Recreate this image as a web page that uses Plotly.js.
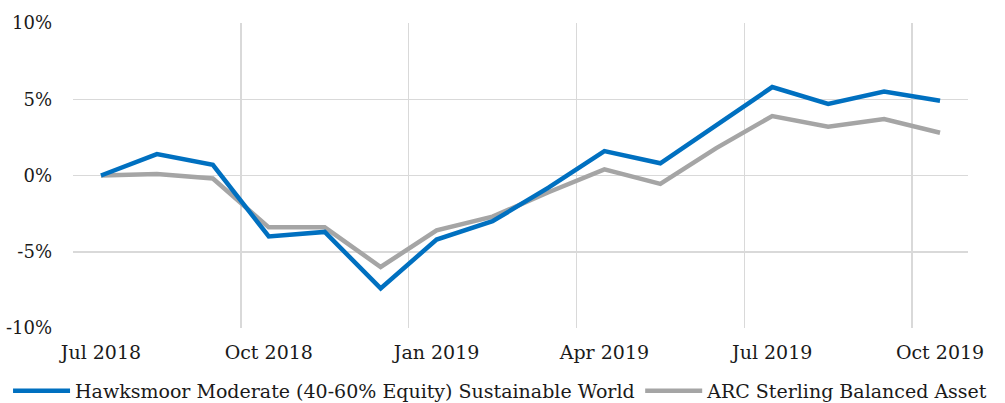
<!DOCTYPE html>
<html>
<head>
<meta charset="utf-8">
<script src="https://cdn.plot.ly/plotly-3.0.1.min.js"></script>
<style>html,body{margin:0;padding:0;background:#fff;}#chart{width:1005px;height:403px;}</style>
</head>
<body>
<div id="chart"></div>
<script>
const months = ["Jul 2018","Aug 2018","Sep 2018","Oct 2018","Nov 2018","Dec 2018","Jan 2019","Feb 2019","Mar 2019","Apr 2019","May 2019","Jun 2019","Jul 2019","Aug 2019","Sep 2019","Oct 2019"];
const hawksmoor = [0, 1.4, 0.7, -4.0, -3.7, -7.4, -4.2, -3.0, -0.8, 1.6, 0.8, 3.3, 5.8, 4.7, 5.5, 4.9];
const arc = [0, 0.1, -0.2, -3.4, -3.4, -6.0, -3.6, -2.7, -1.1, 0.4, -0.55, 1.8, 3.9, 3.2, 3.7, 2.8];
const seriesNames = ["Hawksmoor Moderate (40-60% Equity) Sustainable World", "ARC Sterling Balanced Asset"];
const yTickVals = [-10, -5, 0, 5, 10];
const yTickText = ["-10%", "-5%", "0%", "5%", "10%"];

const idx = months.map((m, i) => i);
const labelIdx = idx.filter(i => i % 3 === 0);

const traces = [
  {x: idx, y: arc, name: seriesNames[1], type: 'scatter', mode: 'lines', legend: 'legend2',
   line: {color: '#A5A5A5', width: 4.5}, text: months, hovertemplate: '%{text}: %{y}%'},
  {x: idx, y: hawksmoor, name: seriesNames[0], type: 'scatter', mode: 'lines', legend: 'legend',
   line: {color: '#0070C0', width: 4.5}, text: months, hovertemplate: '%{text}: %{y}%'}
];
const fam = 'DejaVu Serif';
const font = {family: fam, size: 20, color: '#1a1a1a'};
const legFont = {family: fam, size: 19, color: '#1a1a1a'};
const legBase = {
  orientation: 'h', xref: 'container', yref: 'container', y: 0.077, yanchor: 'top', xanchor: 'left',
  font: legFont, itemwidth: 57, bgcolor: 'rgba(0,0,0,0)'
};
const layout = {
  width: 1005, height: 403,
  margin: {l: 73, r: 37, t: 23, b: 75},
  paper_bgcolor: '#fff', plot_bgcolor: '#fff',
  font: font,
  showlegend: true,
  xaxis: {
    range: [-0.5, 15.5], tickmode: 'array',
    tickvals: labelIdx, ticktext: labelIdx.map(i => months[i]),
    tickfont: {family: fam, size: 19, color: '#1a1a1a'},
    showgrid: false, zeroline: false, showline: false, ticks: '',
    ticklabelstandoff: 11,
    minor: {tickmode: 'array', tickvals: labelIdx.map(i => i - 0.5), showgrid: true, gridcolor: '#D9D9D9', gridwidth: 1.5, ticks: ''},
    fixedrange: true
  },
  yaxis: {
    range: [-10, 10], tickmode: 'array', tickvals: yTickVals, ticktext: yTickText,
    tickfont: {family: fam, size: 18, color: '#1a1a1a'},
    showgrid: true, gridcolor: '#D9D9D9', gridwidth: 1.5, zeroline: false, showline: false,
    ticks: '', ticklabelstandoff: 20, fixedrange: true
  },
  legend: Object.assign({}, legBase, {x: 0.008}),
  legend2: Object.assign({}, legBase, {x: 0.637})
};
Plotly.newPlot('chart', traces, layout, {displayModeBar: false, staticPlot: true});
</script>
</body>
</html>
